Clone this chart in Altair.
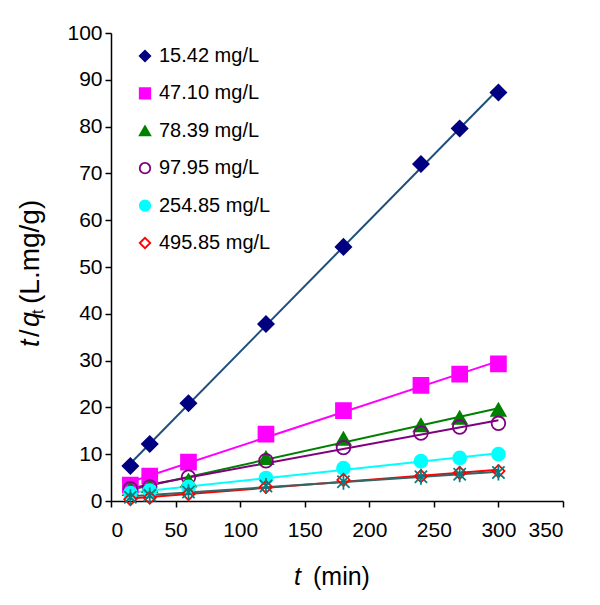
import altair as alt
import pandas as pd

t_vals = [15, 30, 60, 120, 180, 240, 270, 300]
series_names = ["15.42 mg/L", "47.10 mg/L", "78.39 mg/L", "97.95 mg/L",
                "254.85 mg/L", "495.85 mg/L"]
s1 = [7.5, 12.2, 20.9, 37.8, 54.3, 72.0, 79.6, 87.3]
s2 = [3.4, 5.3, 8.3, 14.3, 19.3, 24.7, 27.1, 29.3]
s3 = [2.6, 3.2, 4.4, 9.2, 13.3, 16.2, 17.8, 19.5]
s4 = [2.6, 3.0, 5.1, 8.6, 11.4, 14.5, 15.8, 16.6]
s5 = [1.7, 2.2, 3.0, 4.9, 7.0, 8.5, 9.2, 10.0]
s6 = [0.4, 0.7, 1.5, 3.0, 4.5, 5.3, 6.0, 6.4]
extra = [0.8, 1.2, 1.9, 3.2, 4.1, 5.2, 5.7, 6.1]
all_series = [s1, s2, s3, s4, s5, s6]

marker_shapes = ["diamond", "square", "triangle-up", "circle", "circle", "diamond"]
marker_stroke = ["#000080", "#FF00FF", "#008000", "#800080", "#00FFFF", "#FF0000"]
marker_fill = ["#000080", "#FF00FF", "#008000", "transparent", "#00FFFF", "transparent"]
marker_size = [240, 150, 190, 170, 200, 150]
line_colors = ["#1F4E79", "#FF00FF", "#008000", "#800080", "#00FFFF", "#FF0000"]

rows = []
for name, vals in zip(series_names, all_series):
    for tt, v in zip(t_vals, vals):
        rows.append({"series": name, "t": tt, "val": v})
df = pd.DataFrame(rows)
df_extra = pd.DataFrame({"t": t_vals, "val": extra})
df_leg = pd.DataFrame({"series": series_names})

FONT = "Liberation Sans"

xscale = alt.Scale(domain=[0, 350], nice=False)
yscale = alt.Scale(domain=[0, 100], nice=False)
X = alt.X("t:Q", scale=xscale, axis=alt.Axis(values=list(range(0, 351, 50)), title=None, labelPadding=12))
Y = alt.Y("val:Q", scale=yscale, axis=alt.Axis(values=list(range(0, 101, 10)), title=None, labelPadding=3))

shape_s = alt.Scale(domain=series_names, range=marker_shapes)
stroke_s = alt.Scale(domain=series_names, range=marker_stroke)
fill_s = alt.Scale(domain=series_names, range=marker_fill)

lines = alt.Chart(df).transform_regression(
    "t", "val", groupby=["series"], extent=[15, 300]
).mark_line(strokeWidth=2).encode(
    x=X, y=Y,
    color=alt.Color("series:N", scale=alt.Scale(domain=series_names, range=line_colors), legend=None),
)

extra_line = alt.Chart(df_extra).transform_regression(
    "t", "val", extent=[15, 300]
).mark_line(strokeWidth=2, color="#336666").encode(x=X, y=Y)

points = alt.Chart(df).mark_point(strokeWidth=1.8, opacity=1).encode(
    x=X, y=Y,
    shape=alt.Shape("series:N", scale=shape_s, legend=None),
    stroke=alt.Stroke("series:N", scale=stroke_s, legend=None),
    fill=alt.Fill("series:N", scale=fill_s, legend=None),
    size=alt.Size("series:N", scale=alt.Scale(domain=series_names, range=marker_size), legend=None),
)

extra_points = alt.Chart(df_extra).mark_point(
    shape="M-1,-1L1,1M-1,1L1,-1M0,-1.3L0,1.3", size=150, stroke="#008080",
    strokeWidth=1.8, fill="transparent", opacity=1
).encode(x=X, y=Y)

# legend built from the same scales
LY = alt.Y("series:O", scale=alt.Scale(type="point", domain=series_names, range=[23, 210], padding=0), axis=None)
leg_pts = alt.Chart(df_leg).mark_point(strokeWidth=1.8, opacity=1, size=110).encode(
    x=alt.value(34), y=LY,
    shape=alt.Shape("series:N", scale=shape_s, legend=None),
    stroke=alt.Stroke("series:N", scale=stroke_s, legend=None),
    fill=alt.Fill("series:N", scale=fill_s, legend=None),
)
leg_txt = alt.Chart(df_leg).mark_text(
    font=FONT, fontSize=20, align="left", baseline="middle", color="black"
).encode(x=alt.value(48), y=LY, text="series:N")
legend = alt.layer(leg_pts, leg_txt)

def txt(s, x, y, size=25, style="normal", angle=0):
    return alt.Chart(pd.DataFrame({"s": [s]})).mark_text(
        font=FONT, fontSize=size, fontStyle=style, align="left", baseline="middle",
        angle=angle, color="black"
    ).encode(text="s:N", x=alt.value(x), y=alt.value(y))

xt1 = txt("t", 183, 544, style="italic")
xt2 = txt("(min)", 202, 544)
yt1 = txt("t", -80, 314, size=27, style="italic", angle=270)
yt2 = txt("/", -80, 304, size=27, angle=270)
yt3 = txt("q", -80, 294, size=27, style="italic", angle=270)
yt4 = txt("t", -73, 281, size=16, angle=270)
yt5 = txt("(L.mg/g)", -80, 271, size=28, angle=270)

main = alt.layer(lines, extra_line, points, extra_points)
titles = alt.layer(xt1, xt2, yt1, yt2, yt3, yt4, yt5)

chart = alt.layer(main, legend, titles).resolve_scale(y="independent").properties(
    width=452, height=468, background="white",
    autosize=alt.AutoSizeParams(type="none"),
    padding={"left": 103, "top": 25, "right": 29, "bottom": 96},
).configure_view(stroke=None).configure_axis(
    grid=False, labelFont=FONT, labelFontSize=21, labelColor="black",
    domainColor="black", domainWidth=1.5, tickColor="black", tickWidth=1.5, tickSize=6,
)

chart.save("out.html", embed_options={"renderer": "svg", "actions": False})
